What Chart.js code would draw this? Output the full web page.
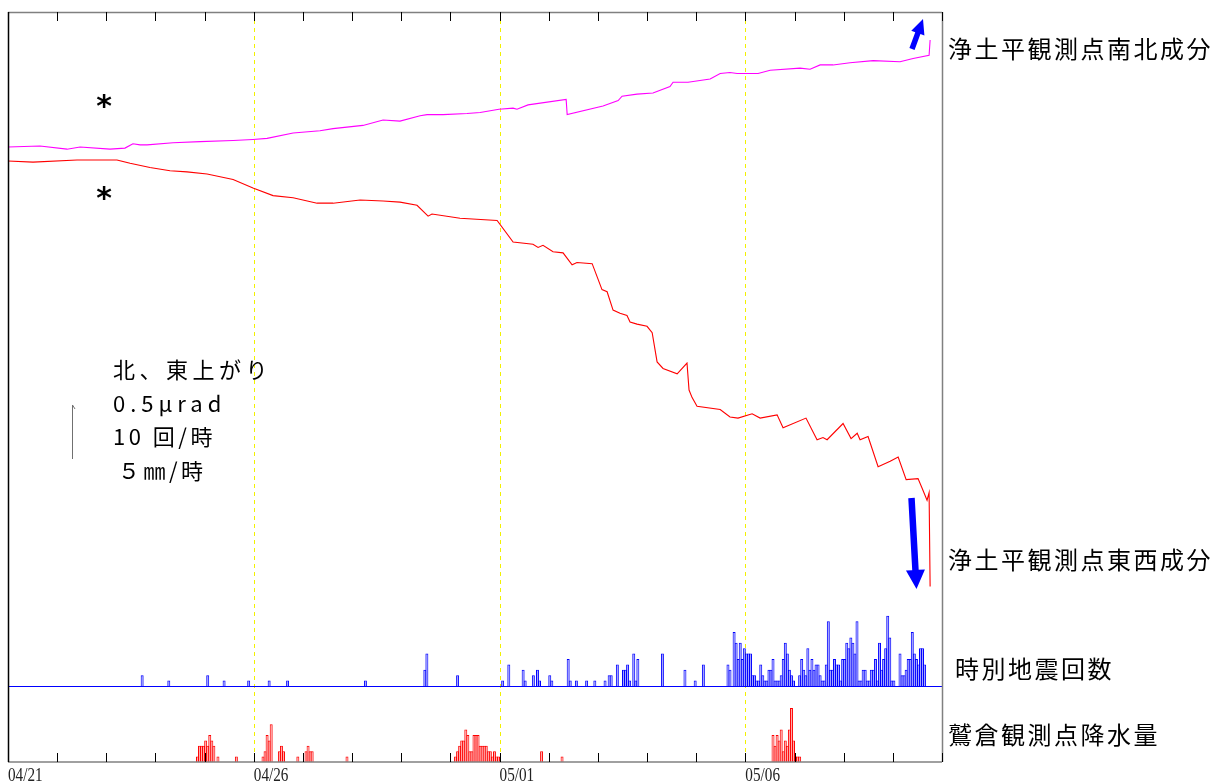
<!DOCTYPE html>
<html><head><meta charset="utf-8">
<script src="https://cdn.jsdelivr.net/npm/chart.js@4"></script>
<style>html,body{margin:0;padding:0;background:#fff;overflow:hidden}canvas{display:block}</style>
</head><body>
<canvas id="c" width="1219" height="783"></canvas>
<script>
// ---- data ----
const dateLabels = ['04/21', '04/26', '05/01', '05/06'];
const dateLabelDays = [0, 5, 10, 15];
const totalDays = 19;

// 浄土平 南北成分 (µrad, relative), hours from 04/21 00:00
const nsHours = [0, 15.6, 28.8, 35.2, 49.8, 57.1, 61.0, 64.5, 67.9, 80.6, 93.8, 109.9, 119.6, 126.5, 139.2, 152.3, 158.7, 173.3, 183.1, 191.4, 201.2, 204.6, 212.4, 224.1, 230.5, 239.7, 246.6, 248.5, 253.9, 272.5, 273.0, 290.5, 297.9, 299.8, 307.1, 314.9, 323.2, 324.7, 332.0, 342.8, 347.7, 352.5, 356.0, 366.2, 372.1, 386.7, 391.6, 396.5, 402.8, 411.1, 422.4, 435.5, 441.9, 449.7, 450.2];
const nsTilt = [0.00, 0.01, -0.02, 0.00, -0.02, -0.01, 0.03, 0.02, 0.02, 0.04, 0.05, 0.06, 0.07, 0.08, 0.13, 0.15, 0.17, 0.20, 0.25, 0.24, 0.29, 0.30, 0.30, 0.31, 0.32, 0.35, 0.36, 0.35, 0.39, 0.44, 0.30, 0.38, 0.43, 0.47, 0.49, 0.50, 0.56, 0.60, 0.60, 0.63, 0.68, 0.69, 0.68, 0.68, 0.71, 0.73, 0.72, 0.76, 0.76, 0.78, 0.80, 0.79, 0.82, 0.85, 0.99];

// 浄土平 東西成分 (µrad, relative)
const ewHours = [0, 12.2, 33.7, 36.6, 53.2, 59.6, 69.3, 79.1, 87.4, 97.2, 109.9, 119.6, 129.4, 139.2, 150.9, 158.7, 171.9, 183.1, 191.4, 199.7, 205.1, 207.0, 220.7, 238.8, 246.6, 256.3, 258.8, 261.2, 266.1, 271.0, 275.4, 277.8, 285.2, 287.6, 290.0, 292.5, 295.4, 298.8, 302.2, 303.7, 307.1, 312.0, 314.5, 316.9, 319.8, 326.7, 331.5, 332.5, 334.0, 336.4, 347.7, 352.5, 356.4, 363.3, 367.2, 375.5, 378.4, 389.6, 395.0, 397.9, 399.9, 407.7, 411.6, 414.6, 416.0, 419.9, 424.8, 430.7, 434.6, 438.5, 444.3, 446.3, 448.7, 449.7, 450.2];
const ewTilt = [-0.01, -0.02, 0.00, 0.00, 0.00, -0.03, -0.07, -0.10, -0.11, -0.13, -0.18, -0.26, -0.33, -0.35, -0.40, -0.40, -0.37, -0.38, -0.39, -0.42, -0.52, -0.50, -0.54, -0.56, -0.76, -0.78, -0.81, -0.79, -0.85, -0.86, -0.97, -0.95, -0.96, -1.08, -1.20, -1.22, -1.39, -1.42, -1.44, -1.50, -1.52, -1.54, -1.60, -1.87, -1.93, -1.98, -1.88, -2.13, -2.20, -2.28, -2.31, -2.38, -2.39, -2.35, -2.39, -2.36, -2.48, -2.39, -2.59, -2.57, -2.59, -2.44, -2.58, -2.53, -2.59, -2.56, -2.84, -2.79, -2.75, -2.96, -2.95, -3.04, -3.15, -3.08, -3.95];

// 時別地震回数 (hour index, count)
const quakeHours = [65, 78, 97, 105, 117, 127, 136, 174, 203, 204, 219, 241, 244, 251, 252, 256, 258, 259, 264, 265, 273, 274, 277, 282, 286, 291, 293, 294, 297, 300, 301, 302, 303, 305, 306, 307, 319, 330, 335, 339,
  351, 352, 354, 355, 356, 357, 358, 359, 360, 361, 362, 363, 364, 365, 366, 367, 368, 369, 370, 371, 372, 373, 374, 375, 376, 377, 378, 379, 380, 381, 382, 383,
  386, 387, 388, 389, 390, 391, 392, 393, 394, 395, 396, 397, 398, 399, 400, 401, 402, 403, 404, 405, 406, 407, 408, 409, 410, 411, 412, 413, 414, 415, 416, 417, 418, 419, 420, 421, 422, 423, 424, 425, 426, 427, 428, 429, 430, 431, 432,
  435, 436, 437, 438, 439, 440, 441, 442, 443, 444, 445, 446, 447];
const quakeCounts = [2, 1, 2, 1, 1, 1, 1, 1, 3, 6, 2, 1, 4, 3, 1, 2, 3, 1, 2, 1, 5, 1, 1, 1, 1, 1, 2, 2, 4, 3, 3, 4, 1, 6, 1, 5, 6, 3, 1, 4,
  4, 3, 10, 8, 5, 8, 5, 7, 6, 6, 6, 2, 2, 1, 1, 4, 2, 1, 1, 3, 3, 5, 1, 1, 1, 2, 5, 8, 6, 3, 2, 1,
  2, 5, 3, 2, 7, 3, 5, 3, 4, 4, 2, 1, 1, 4, 12, 3, 3, 5, 4, 4, 1, 5, 5, 8, 7, 9, 8, 6, 12, 1, 1, 3, 3, 1, 1, 3, 3, 5, 1, 8, 3, 5, 7, 13, 9, 1, 1,
  6, 2, 2, 3, 5, 5, 10, 6, 5, 4, 7, 7, 4];

// 鷲倉 降水量 (hour index, mm)
const rainHours = [92, 93, 94, 95, 96, 97, 98, 99, 100, 102, 111, 124, 125, 126, 127, 128, 132, 133, 134, 141, 145, 146, 147, 148, 165,
  218, 219, 220, 221, 222, 223, 224, 225, 226, 227, 228, 229, 230, 231, 232, 233, 234, 235, 236, 237, 238, 239, 260, 270,
  373, 374, 375, 376, 377, 378, 379, 380, 381, 382, 383, 384, 385, 386];
const rainMm = [0.5, 1.5, 1.5, 1.5, 2.0, 1.5, 2.5, 2.0, 1.5, 0.5, 0.5, 0.5, 1.0, 2.5, 2.0, 3.5, 1.0, 1.5, 1.0, 0.5, 1.0, 1.5, 1.0, 1.0, 0.5,
  0.5, 1.0, 1.5, 2.0, 2.0, 3.0, 2.5, 1.0, 1.0, 2.5, 2.5, 2.5, 1.5, 1.5, 1.5, 1.5, 1.0, 1.0, 0.5, 1.0, 0.5, 0.5, 1.0, 0.5,
  2.5, 1.5, 2.5, 2.0, 3.0, 1.0, 2.0, 1.5, 3.0, 5.0, 2.0, 0.5, 0.5, 0.5];

const nsLabel = '浄土平観測点南北成分';
const ewLabel = '浄土平観測点東西成分';
const quakeLabel = '時別地震回数';
const rainLabel = '鷲倉観測点降水量';
const scaleTexts = ['北、東上がり', '0.5μrad', '10 回/時', '５㎜/時'];

// ---- chart ----
const pts = (xs, ys, off) => xs.map((x, i) => ({ x: x + (off || 0), y: ys[i] }));
const JP = '"Noto Sans CJK JP", "Noto Sans CJK SC", sans-serif';

function arrow(ctx, x1, y1, x2, y2, sw, hw, hl) {
  const ang = Math.atan2(y2 - y1, x2 - x1), len = Math.hypot(x2 - x1, y2 - y1);
  ctx.save();
  ctx.translate(x1, y1); ctx.rotate(ang);
  ctx.beginPath();
  ctx.moveTo(0, -sw / 2); ctx.lineTo(len - hl, -sw / 2); ctx.lineTo(len - hl, -hw / 2);
  ctx.lineTo(len, 0); ctx.lineTo(len - hl, hw / 2); ctx.lineTo(len - hl, sw / 2); ctx.lineTo(0, sw / 2);
  ctx.closePath(); ctx.fill();
  ctx.restore();
}
function seg(ctx, x1, y1, x2, y2) { ctx.beginPath(); ctx.moveTo(x1, y1); ctx.lineTo(x2, y2); ctx.stroke(); }

const decor = {
  id: 'decor',
  beforeDatasetsDraw(chart) {
    const { ctx, chartArea: a, scales: { x } } = chart;
    ctx.save();
    ctx.strokeStyle = '#f2f200'; ctx.lineWidth = 1; ctx.setLineDash([4, 4]);
    dateLabelDays.slice(1).forEach(d => {
      const px = Math.round(x.getPixelForValue(d * 24)) + 0.5;
      seg(ctx, px, a.top, px, a.bottom);
    });
    ctx.restore();
  },
  afterDatasetsDraw(chart) {
    const { ctx, chartArea: a, scales: { x, yQ, yNS } } = chart;
    ctx.save();
    // quake baseline
    const qb = Math.round(yQ.getPixelForValue(0)) + 0.5;
    ctx.strokeStyle = '#0000ff'; ctx.lineWidth = 1;
    seg(ctx, a.left, qb, a.right, qb);
    // frame
    ctx.strokeStyle = '#808080'; ctx.lineWidth = 1.5;
    seg(ctx, a.left, a.top + 0.5, a.right, a.top + 0.5);
    seg(ctx, a.left, a.bottom, a.right, a.bottom);
    seg(ctx, a.right + 0.5, a.top, a.right + 0.5, a.bottom);
    ctx.strokeStyle = '#000'; ctx.lineWidth = 1.5;
    seg(ctx, a.left + 0.5, a.top, a.left + 0.5, a.bottom);
    // day ticks
    ctx.lineWidth = 1; ctx.strokeStyle = '#000';
    for (let d = 0; d <= totalDays; d++) {
      const px = Math.round(x.getPixelForValue(d * 24)) + 0.5;
      seg(ctx, px, a.top, px, a.top + 9);
      seg(ctx, px, a.bottom - 9, px, a.bottom);
    }
    // date labels
    ctx.fillStyle = '#222'; ctx.font = '19px "Liberation Serif", serif';
    ctx.textAlign = 'left'; ctx.textBaseline = 'alphabetic';
    dateLabels.forEach((t, i) => {
      const px = x.getPixelForValue(dateLabelDays[i] * 24);
      ctx.save(); ctx.translate(px, a.bottom + 19); ctx.scale(0.8, 1); ctx.fillText(t, 0, 0); ctx.restore();
    });
    // series labels on right
    ctx.fillStyle = '#000'; ctx.font = '24px ' + JP; ctx.textBaseline = 'middle';
    ctx.letterSpacing = '2.5px';
    ctx.fillText(nsLabel, 948, 49);
    ctx.fillText(ewLabel, 948, 560);
    ctx.fillText(quakeLabel, 955, 669);
    ctx.fillText(rainLabel, 948, 735);
    // scale legend
    ctx.font = '22px ' + JP; ctx.letterSpacing = '4.5px';
    ctx.fillText(scaleTexts[0], 113, 370);
    ctx.letterSpacing = '5px';
    ctx.fillText(scaleTexts[1], 113, 404);
    ctx.letterSpacing = '3.5px';
    ctx.fillText(scaleTexts[2], 113, 437);
    ctx.fillText(scaleTexts[3], 118, 471);
    ctx.letterSpacing = '0px';
    const barLen = yNS.getPixelForValue(0) - yNS.getPixelForValue(0.5);
    ctx.strokeStyle = '#707070'; ctx.lineWidth = 1;
    seg(ctx, 72.5, 459, 72.5, 459 - barLen);
    seg(ctx, 72.5, 459 - barLen, 75, 459 - barLen + 4);
    // asterisks
    ctx.fillStyle = '#000'; ctx.font = 'bold 30px "DejaVu Sans", sans-serif'; ctx.textAlign = 'center';
    ctx.textBaseline = 'alphabetic';
    ctx.fillText('*', 104, 116);
    ctx.fillText('*', 104, 208);
    // arrows
    ctx.fillStyle = '#0000ff';
    arrow(ctx, 912, 49, 923, 19, 5.5, 14, 15);
    arrow(ctx, 911.5, 498, 916.5, 589, 6.5, 19, 19);
    ctx.restore();
  }
};

const barCommon = { type: 'bar', grouped: false, barPercentage: 1, categoryPercentage: 1.45, borderWidth: 1 };
new Chart(document.getElementById('c'), {
  type: 'bar',
  data: {
    datasets: [
      { type: 'line', label: nsLabel, data: pts(nsHours, nsTilt), yAxisID: 'yNS', borderColor: '#ff00ff', borderWidth: 1.1, pointRadius: 0, tension: 0, fill: false },
      { type: 'line', label: ewLabel, data: pts(ewHours, ewTilt), yAxisID: 'yEW', borderColor: '#ff0000', borderWidth: 1.1, pointRadius: 0, tension: 0, fill: false },
      Object.assign({ label: quakeLabel, data: pts(quakeHours, quakeCounts, 0.5), yAxisID: 'yQ', backgroundColor: 'rgba(130,130,255,0.75)', borderColor: '#0000ff' }, barCommon),
      Object.assign({ label: rainLabel, data: pts(rainHours, rainMm, 0.5), yAxisID: 'yR', backgroundColor: 'rgba(255,140,140,0.75)', borderColor: '#ff0000' }, barCommon)
    ]
  },
  options: {
    responsive: false, animation: false, events: [],
    layout: { padding: { left: 8, top: 12, right: 277, bottom: 21 } },
    plugins: { legend: { display: false }, tooltip: { enabled: false } },
    scales: {
      x: { type: 'linear', offset: false, grid: { offset: false }, min: 0, max: totalDays * 24, display: false, ticks: { stepSize: 24 } },
      yNS: { type: 'linear', min: -5.694, max: 1.25, display: false },
      yEW: { type: 'linear', min: -5.574, max: 1.37, display: false },
      yQ: { type: 'linear', min: -14.07, max: 124.8, display: false },
      yR: { type: 'linear', min: 0, max: 69.44, display: false }
    }
  },
  plugins: [decor]
});
</script>
</body></html>
